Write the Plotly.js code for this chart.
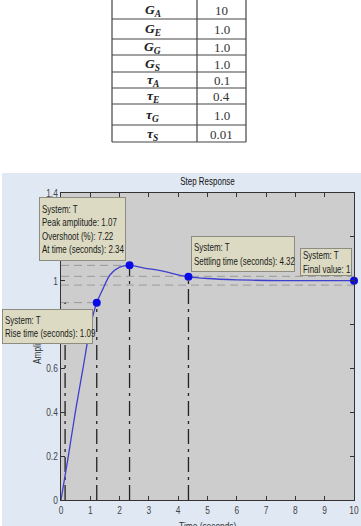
<!DOCTYPE html>
<html>
<head>
<meta charset="utf-8">
<script src="https://cdn.plot.ly/plotly-3.0.1.min.js"></script>
<style>html,body{margin:0;padding:0;background:#fff;}#chart{width:361px;height:526px;}</style>
</head>
<body>
<div id="chart"></div>
<script>
// ---- Data ----
const paramLabels = ['G<sub>A</sub>', 'G<sub>E</sub>', 'G<sub>G</sub>', 'G<sub>S</sub>', 'τ<sub>A</sub>', 'τ<sub>E</sub>', 'τ<sub>G</sub>', 'τ<sub>S</sub>'];
const paramValues = ['10', '1.0', '1.0', '1.0', '0.1', '0.4', '1.0', '0.01'];

const timeSec = [0, 0.25, 0.5, 0.75, 1.0, 1.22, 1.44, 1.67, 2.0, 2.34, 2.8, 3.4, 3.9, 4.35, 5, 6, 7, 8, 9, 10];
const amplitude = [0, 0.2, 0.41, 0.6, 0.79, 0.9, 0.965, 1.026, 1.062, 1.07, 1.059, 1.046, 1.03, 1.018, 1.01, 1.004, 1.001, 1.0, 1.0, 1.0];

const charTimes = [1.22, 2.34, 4.35, 10];      // rise end, peak, settling, final
const charAmps = [0.9, 1.07, 1.018, 1.0];
const riseStartTime = 0.14;
const settlingBand = [0.98, 1.02];

const xTicks = [0, 1, 2, 3, 4, 5, 6, 7, 8, 9, 10];
const yTicks = [0, 0.2, 0.4, 0.6, 0.8, 1, 1.2, 1.4];

const tipTexts = [
  'System: T<br>Rise time (seconds): 1.09',
  'System: T<br>Peak amplitude: 1.07<br>Overshoot (%): 7.22<br>At time (seconds): 2.34',
  'System: T<br>Settling time (seconds): 4.32',
  'System: T<br>Final value: 1'
];

// ---- Layout helpers (pixel -> paper) ----
const W = 361, H = 526;
const px = v => v / W;
const py = v => 1 - v / H;
const FONT = 'Liberation Sans, Arial, sans-serif';
const SERIF = 'Liberation Serif, Times New Roman, serif';
const NARROW = 0.76;   // horizontal squeeze to mimic the narrow MATLAB font

// table geometry (px)
const tableCols = [112, 197, 246];
const tableRows = [0, 19, 39, 55, 72, 88, 104, 125, 142];

// tip boxes: [left, top, width, height] in px
const tipBoxes = [
  [2, 309, 91, 35],
  [39, 197, 87, 64],
  [191, 236, 104, 36],
  [300, 248, 52, 28]
];

const traces = [];
const gray = {color: '#9a9a9a', width: 1, dash: '8px,5px'};
// settling band lines
settlingBand.forEach(v => {
  traces.push({x: [0, 10], y: [v, v], mode: 'lines', line: gray, hoverinfo: 'skip', showlegend: false});
});
// horizontal reference lines to rise end & peak
[0, 1].forEach(i => {
  traces.push({x: [0, charTimes[i]], y: [charAmps[i], charAmps[i]], mode: 'lines', line: gray, hoverinfo: 'skip', showlegend: false});
});
// vertical lines
[riseStartTime, charTimes[0], charTimes[1], charTimes[2]].forEach((tv, i) => {
  const top = i === 0 ? charAmps[0] : charAmps[i - 1];
  traces.push({x: [tv, tv], y: [0, top], mode: 'lines', line: {color: '#222', width: 1.3, dash: '15px,5px,3px,5px'}, hoverinfo: 'skip', showlegend: false});
});
// response curve
traces.push({
  x: timeSec, y: amplitude, mode: 'lines',
  line: {color: '#3f3fcf', width: 1.3, shape: 'spline', smoothing: 0.8},
  showlegend: false
});
// characteristic markers
traces.push({
  x: charTimes, y: charAmps, mode: 'markers',
  marker: {color: '#0a0ae6', size: 8},
  cliponaxis: false, showlegend: false
});

const annotations = [];
const shapes = [
  {type: 'rect', xref: 'paper', yref: 'paper', x0: px(2), x1: 1, y0: 0, y1: py(173), fillcolor: '#dfe8f3', line: {width: 0}, layer: 'below'},
  {type: 'rect', xref: 'x domain', yref: 'y domain', x0: 0, x1: 1, y0: 0, y1: 1, fillcolor: '#cdcdcd', line: {width: 0}, layer: 'below'}
];

// table: text cells
paramLabels.forEach((lab, i) => {
  const yc = (tableRows[i] + tableRows[i + 1]) / 2 + 0.5;
  annotations.push({
    text: '<b><i>' + lab + '</i></b>', xref: 'paper', yref: 'paper',
    x: px((tableCols[0] + tableCols[1]) / 2 - 2), y: py(yc), xanchor: 'center', yanchor: 'middle', showarrow: false,
    font: {family: SERIF, size: 13.5, color: '#222'}
  });
  annotations.push({
    text: paramValues[i], xref: 'paper', yref: 'paper',
    x: px((tableCols[1] + tableCols[2]) / 2), y: py(yc), xanchor: 'center', yanchor: 'middle', showarrow: false,
    font: {family: SERIF, size: 13, color: '#333'}
  });
});
// table: grid lines
tableCols.forEach(c => shapes.push({type: 'line', xref: 'paper', yref: 'paper', x0: px(c), x1: px(c), y0: py(tableRows[0]), y1: py(tableRows[tableRows.length - 1]), line: {color: '#444', width: 1.2}}));
tableRows.slice(1).forEach(r => shapes.push({type: 'line', xref: 'paper', yref: 'paper', x0: px(tableCols[0]), x1: px(tableCols[2]), y0: py(r), y1: py(r), line: {color: '#444', width: 1.2}}));

annotations.push({
  text: 'Amplitude', xref: 'paper', yref: 'paper', x: px(37), y: py(346), textangle: -90,
  showarrow: false, xanchor: 'center', yanchor: 'middle', font: {family: FONT, size: 11, color: '#333'}
});
annotations.push({
  text: 'Time (seconds)', xref: 'paper', yref: 'paper', x: px(207.5), y: py(518),
  showarrow: false, xanchor: 'center', yanchor: 'top', font: {family: FONT, size: 11, color: '#333'}
});
tipTexts.forEach((txt, i) => {
  const b = tipBoxes[i];
  annotations.push({
    text: txt, xref: 'paper', yref: 'paper', x: px(b[0]), y: py(b[1]),
    xanchor: 'left', yanchor: 'top', showarrow: false, align: 'left', valign: 'middle',
    width: b[2] - 6, height: b[3] - 6, borderpad: 2, borderwidth: 1,
    bgcolor: '#dcdac2', bordercolor: '#8c8c80',
    font: {family: FONT, size: 10.5, color: '#1a1a1a'}
  });
});

const layout = {
  width: W, height: H,
  margin: {l: 0, r: 0, t: 0, b: 0},
  paper_bgcolor: '#ffffff',
  plot_bgcolor: '#cdcdcd',
  showlegend: false,
  title: {text: 'Step Response', x: px(207.5), xref: 'paper', y: py(181), yref: 'paper', xanchor: 'center', yanchor: 'middle',
          font: {family: FONT, size: 10.5, color: '#111'}},
  xaxis: {
    domain: [px(61), px(354)], range: [0, 10], tickvals: xTicks,
    ticks: 'inside', ticklen: 4, tickcolor: '#333', mirror: 'ticks',
    showline: true, linecolor: '#333', linewidth: 1, showgrid: false, zeroline: false,
    tickfont: {family: FONT, size: 11, color: '#444'}
  },
  yaxis: {
    domain: [1 - 500 / H, 1 - 193 / H], range: [0, 1.4], tickvals: yTicks,
    ticks: 'inside', ticklen: 4, tickcolor: '#333', mirror: 'ticks',
    showline: true, linecolor: '#333', linewidth: 1, showgrid: false, zeroline: false,
    tickfont: {family: FONT, size: 11, color: '#444'}
  },
  shapes: shapes,
  annotations: annotations
};

Plotly.newPlot('chart', traces, layout, {displayModeBar: false, staticPlot: true}).then(gd => {
  // text boxes were sized for the squeezed text: let it show in full
  gd.querySelectorAll('.annotation [clip-path]').forEach(e => e.removeAttribute('clip-path'));
  gd.querySelectorAll('svg text').forEach(t => {
    const fam = t.style.fontFamily || '';
    if (fam.indexOf('Liberation Sans') === -1) return;
    const bb = t.getBBox();
    if (!bb.width) return;
    const anchor = t.getAttribute('text-anchor') || 'start';
    const cx = anchor === 'middle' ? bb.x + bb.width / 2 : (anchor === 'end' ? bb.x + bb.width : bb.x);
    const prev = t.getAttribute('transform') || '';
    t.setAttribute('transform', prev + ' translate(' + cx + ',0) scale(' + NARROW + ',1) translate(' + (-cx) + ',0)');
  });
});
</script>
</body>
</html>
